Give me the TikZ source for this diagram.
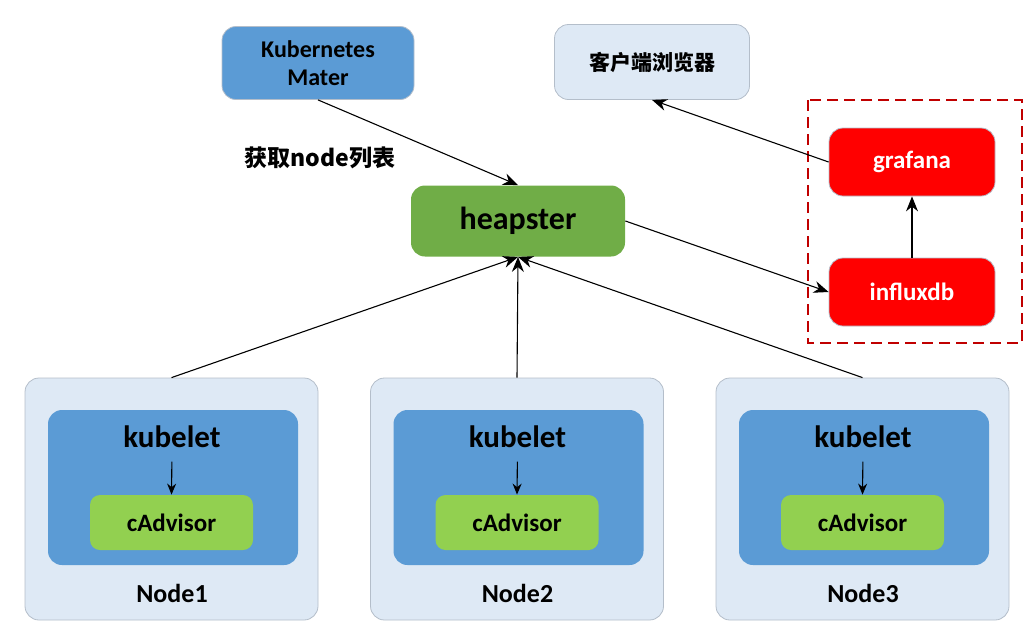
\documentclass[tikz,border=0pt]{standalone}
\usepackage{fontspec}
\setmainfont{Carlito}
\newfontfamily\cjk{Noto Sans CJK SC}
\usetikzlibrary{positioning, calc, arrows.meta}
\definecolor{master}{RGB}{91, 155, 213}
\definecolor{pale}{RGB}{222, 233, 245}
\definecolor{paleline}{RGB}{180, 190, 202}
\definecolor{heap}{RGB}{112, 173, 71}
\definecolor{cadv}{RGB}{146, 208, 80}
\definecolor{dashred}{RGB}{192, 0, 0}

\begin{document}
\begin{tikzpicture}[x=1pt, y=-1pt, thick,
    box/.style={rounded corners=14pt, inner sep=0pt, font=\bfseries},
    link/.style={-{Stealth[length=15pt, width=12pt]}, black, line width=1.1},
    small/.style={-{Stealth[length=11pt, width=9pt]}, black, line width=1.1}]

        \useasboundingbox (0, 0) rectangle (1028, 630);

        % Top
        \node[box, fill=master, draw=paleline, minimum width=192, minimum height=73,
              align=center, font=\bfseries\fontsize{24}{28}\selectfont]
              (master) at (318, 63) {Kubernetes\\Mater};

        \node[box, fill=pale, draw=paleline, minimum width=195, minimum height=75,
              font=\cjk\bfseries\fontsize{21}{23}\selectfont]
              (browser) at (652, 62) {客户端浏览器};

        \node[font=\cjk\bfseries\fontsize{23}{25}\selectfont] (fetch) at (320, 158) {获取node列表};

        \node[box, fill=heap, minimum width=214, minimum height=71,
              font=\bfseries\fontsize{32}{34}\selectfont]
              (heapster) at (518, 221) {heapster};

        % Storage
        \draw[dashred, line width=2.5, dash pattern=on 11pt off 6pt] (808, 100) rectangle (1022, 343);

        \node[box, fill=red, draw=paleline, minimum width=166, minimum height=68,
              text=white, font=\bfseries\fontsize{25}{27}\selectfont]
              (grafana) at (912, 162) {grafana};

        \node[box, fill=red, draw=paleline, minimum width=166, minimum height=68,
              text=white, font=\bfseries\fontsize{25}{27}\selectfont]
              (influxdb) at (912, 292) {influxdb};

        \draw[link] (master.south) -- (heapster.north);
        \draw[link] (heapster.east) -- (influxdb.west);
        \draw[link] (influxdb.north) -- (grafana.south);
        \draw[link] (grafana.west) -- (browser.south);

        % Node1
        \pgfmathsetmacro{\dx}{0}

        \node[box, fill=pale, draw=paleline, minimum width=293, minimum height=242] (node1) at (171.5 + \dx, 499) {};
        \node[box, fill=master, minimum width=250, minimum height=155] (blue1) at (173 + \dx, 487.5) {};
        \node[font=\bfseries\fontsize{31}{33}\selectfont] (kubelet1) at (172 + \dx, 437) {kubelet};
        \node[box, rounded corners=10pt, fill=cadv, minimum width=163, minimum height=55,
              font=\bfseries\fontsize{25}{27}\selectfont] (cadvisor1) at (171.5 + \dx, 522.5) {cAdvisor};
        \node[font=\bfseries\fontsize{26}{28}\selectfont] (label1) at (172 + \dx, 593) {Node1};
        \draw[small, shorten <=10pt] (kubelet1.south) -- (cadvisor1.north);

        % Node2
        \pgfmathsetmacro{\dx}{345.5}

        \node[box, fill=pale, draw=paleline, minimum width=293, minimum height=242] (node2) at (171.5 + \dx, 499) {};
        \node[box, fill=master, minimum width=250, minimum height=155] (blue2) at (173 + \dx, 487.5) {};
        \node[font=\bfseries\fontsize{31}{33}\selectfont] (kubelet2) at (172 + \dx, 437) {kubelet};
        \node[box, rounded corners=10pt, fill=cadv, minimum width=163, minimum height=55,
              font=\bfseries\fontsize{25}{27}\selectfont] (cadvisor2) at (171.5 + \dx, 522.5) {cAdvisor};
        \node[font=\bfseries\fontsize{26}{28}\selectfont] (label2) at (172 + \dx, 593) {Node2};
        \draw[small, shorten <=10pt] (kubelet2.south) -- (cadvisor2.north);

        % Node3
        \pgfmathsetmacro{\dx}{691}

        \node[box, fill=pale, draw=paleline, minimum width=293, minimum height=242] (node3) at (171.5 + \dx, 499) {};
        \node[box, fill=master, minimum width=250, minimum height=155] (blue3) at (173 + \dx, 487.5) {};
        \node[font=\bfseries\fontsize{31}{33}\selectfont] (kubelet3) at (172 + \dx, 437) {kubelet};
        \node[box, rounded corners=10pt, fill=cadv, minimum width=163, minimum height=55,
              font=\bfseries\fontsize{25}{27}\selectfont] (cadvisor3) at (171.5 + \dx, 522.5) {cAdvisor};
        \node[font=\bfseries\fontsize{26}{28}\selectfont] (label3) at (172 + \dx, 593) {Node3};
        \draw[small, shorten <=10pt] (kubelet3.south) -- (cadvisor3.north);

        % Reports
        \draw[link] (node1.north) -- (heapster.south);
        \draw[link] (node2.north) -- (heapster.south);
        \draw[link] (node3.north) -- (heapster.south);

\end{tikzpicture}
\end{document}
